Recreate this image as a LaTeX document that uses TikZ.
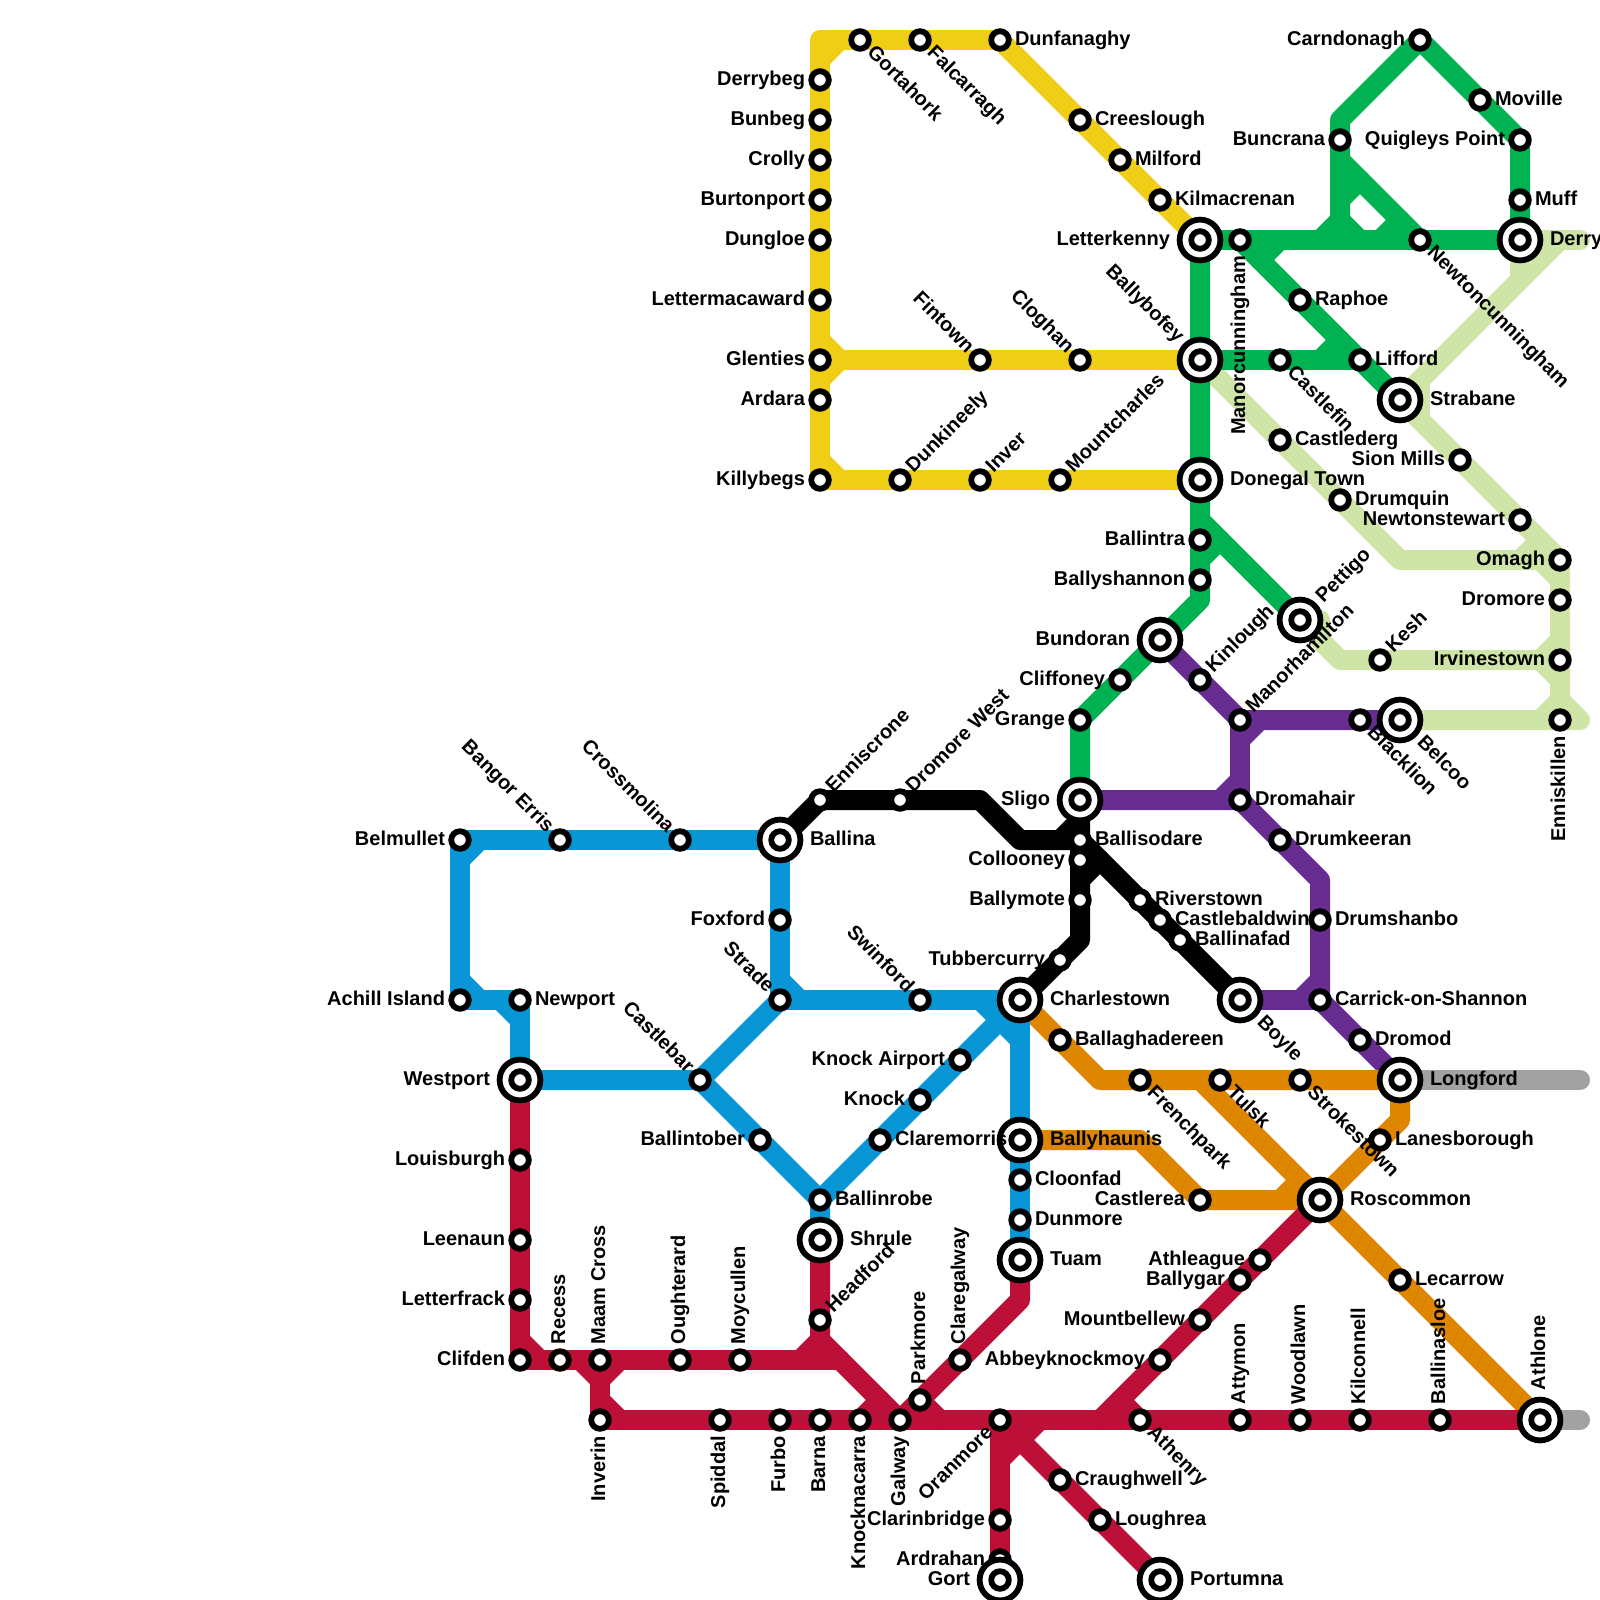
\documentclass[tikz,border=0pt]{standalone}
\usepackage{fontspec}
\setmainfont{Liberation Sans}
\usetikzlibrary{backgrounds}
\definecolor{cyel}{HTML}{F0CE15}
\definecolor{cgrn}{HTML}{00B251}
\definecolor{clgr}{HTML}{CFE4A7}
\definecolor{cpur}{HTML}{662C90}
\definecolor{cblu}{HTML}{0896D7}
\definecolor{cora}{HTML}{DF8600}
\definecolor{cred}{HTML}{BD1038}
\definecolor{cgry}{HTML}{A2A2A2}
\tikzset{
 stn/.style={circle,draw=black,fill=white,line width=5.8pt,minimum size=17.6pt,inner sep=0pt,outer sep=0pt},
 hub/.style={circle,draw=black,fill=white,line width=5.8pt,minimum size=40.8pt,inner sep=0pt,outer sep=0pt},
 route/.style={line width=20pt,line cap=round,line join=round},
 lbl/.style={inner sep=0pt,outer sep=0pt,text height=14.3pt,text depth=4pt,font=\fontsize{20}{24}\selectfont\bfseries},
 lblE/.style={lbl,anchor=west,xshift=15pt},
 lblW/.style={lbl,anchor=east,xshift=-15pt},
 lblN/.style={lbl,yshift=16pt,rotate=90,anchor=west},
 lblS/.style={lbl,yshift=-16pt,rotate=90,anchor=east},
 lblNE/.style={lbl,xshift=10pt,yshift=10pt,rotate=45,anchor=west},
 lblSE/.style={lbl,xshift=10pt,yshift=-10pt,rotate=-45,anchor=west},
 lblNW/.style={lbl,xshift=-10pt,yshift=10pt,rotate=-45,anchor=east},
 lblSW/.style={lbl,xshift=-10pt,yshift=-10pt,rotate=45,anchor=east},
 lblhE/.style={lbl,anchor=west,xshift=30pt},
 lblhW/.style={lbl,anchor=east,xshift=-30pt},
 lblhN/.style={lbl,yshift=30pt,rotate=90,anchor=west},
 lblhNE/.style={lbl,xshift=20pt,yshift=20pt,rotate=45,anchor=west},
 lblhSE/.style={lbl,xshift=20pt,yshift=-20pt,rotate=-45,anchor=west},
 lblhNW/.style={lbl,xshift=-20pt,yshift=20pt,rotate=-45,anchor=east},
}
\newcommand\St[5]{}
\newcommand\Hb[5]{}
\newcommand\AllStations{%
\St{derrybeg}{820}{80}{W}{Derrybeg}
\St{bunbeg}{820}{120}{W}{Bunbeg}
\St{crolly}{820}{160}{W}{Crolly}
\St{burtonport}{820}{200}{W}{Burtonport}
\St{dungloe}{820}{240}{W}{Dungloe}
\St{lettermacaward}{820}{300}{W}{Lettermacaward}
\St{glenties}{820}{360}{W}{Glenties}
\St{ardara}{820}{400}{W}{Ardara}
\St{killybegs}{820}{480}{W}{Killybegs}
\St{gortahork}{860}{40}{SE}{Gortahork}
\St{falcarragh}{920}{40}{SE}{Falcarragh}
\St{dunfanaghy}{1000}{40}{E}{Dunfanaghy}
\St{creeslough}{1080}{120}{E}{Creeslough}
\St{milford}{1120}{160}{E}{Milford}
\St{kilmacrenan}{1160}{200}{E}{Kilmacrenan}
\St{fintown}{980}{360}{NW}{Fintown}
\St{cloghan}{1080}{360}{NW}{Cloghan}
\St{dunkineely}{900}{480}{NE}{Dunkineely}
\St{inver}{980}{480}{NE}{Inver}
\St{mountcharles}{1060}{480}{NE}{Mountcharles}
\Hb{letterkenny}{1200}{240}{hW}{Letterkenny}
\Hb{ballybofey}{1200}{360}{hNW}{Ballybofey}
\Hb{donegal}{1200}{480}{hE}{Donegal Town}
\St{manorcunningham}{1240}{240}{S}{Manorcunningham}
\St{newtoncunningham}{1420}{240}{SE}{Newtoncunningham}
\St{raphoe}{1300}{300}{E}{Raphoe}
\St{lifford}{1360}{360}{E}{Lifford}
\St{castlefin}{1280}{360}{SE}{Castlefin}
\Hb{strabane}{1400}{400}{hE}{Strabane}
\St{carndonagh}{1420}{40}{W}{Carndonagh}
\St{moville}{1480}{100}{E}{Moville}
\St{buncrana}{1340}{140}{W}{Buncrana}
\St{quigleys}{1520}{140}{W}{Quigleys Point}
\St{muff}{1520}{200}{E}{Muff}
\Hb{derry}{1520}{240}{hE}{Derry}
\St{castlederg}{1280}{440}{E}{Castlederg}
\St{sionmills}{1460}{460}{W}{Sion Mills}
\St{drumquin}{1340}{500}{E}{Drumquin}
\St{newtonstewart}{1520}{520}{W}{Newtonstewart}
\St{omagh}{1560}{560}{W}{Omagh}
\St{dromore}{1560}{600}{W}{Dromore}
\St{irvinestown}{1560}{660}{W}{Irvinestown}
\St{enniskillen}{1560}{720}{S}{Enniskillen}
\St{kesh}{1380}{660}{NE}{Kesh}
\Hb{pettigo}{1300}{620}{hNE}{Pettigo}
\Hb{belcoo}{1400}{720}{hSE}{Belcoo}
\St{blacklion}{1360}{720}{SE}{Blacklion}
\St{manorhamilton}{1240}{720}{NE}{Manorhamilton}
\St{kinlough}{1200}{680}{NE}{Kinlough}
\Hb{bundoran}{1160}{640}{hW}{Bundoran}
\St{ballintra}{1200}{540}{W}{Ballintra}
\St{ballyshannon}{1200}{580}{W}{Ballyshannon}
\St{cliffoney}{1120}{680}{W}{Cliffoney}
\St{grange}{1080}{720}{W}{Grange}
\Hb{sligo}{1080}{800}{hW}{Sligo}
\St{dromahair}{1240}{800}{E}{Dromahair}
\St{drumkeeran}{1280}{840}{E}{Drumkeeran}
\St{drumshanbo}{1320}{920}{E}{Drumshanbo}
\St{carrick}{1320}{1000}{E}{Carrick-on-Shannon}
\St{dromod}{1360}{1040}{E}{Dromod}
\Hb{longford}{1400}{1080}{hE}{Longford}
\Hb{boyle}{1240}{1000}{hSE}{Boyle}
\St{ballisodare}{1080}{840}{E}{Ballisodare}
\St{collooney}{1080}{860}{W}{Collooney}
\St{ballymote}{1080}{900}{W}{Ballymote}
\St{riverstown}{1140}{900}{E}{Riverstown}
\St{castlebaldwin}{1160}{920}{E}{Castlebaldwin}
\St{ballinafad}{1180}{940}{E}{Ballinafad}
\St{tubbercurry}{1060}{960}{W}{Tubbercurry}
\Hb{charlestown}{1020}{1000}{hE}{Charlestown}
\St{ballaghadereen}{1060}{1040}{E}{Ballaghadereen}
\St{frenchpark}{1140}{1080}{SE}{Frenchpark}
\St{tulsk}{1220}{1080}{SE}{Tulsk}
\St{strokestown}{1300}{1080}{SE}{Strokestown}
\St{lanesborough}{1380}{1140}{E}{Lanesborough}
\Hb{roscommon}{1320}{1200}{hE}{Roscommon}
\St{castlerea}{1200}{1200}{W}{Castlerea}
\Hb{ballyhaunis}{1020}{1140}{hE}{Ballyhaunis}
\St{cloonfad}{1020}{1180}{E}{Cloonfad}
\St{dunmore}{1020}{1220}{E}{Dunmore}
\Hb{tuam}{1020}{1260}{hE}{Tuam}
\St{knockairport}{960}{1060}{W}{Knock Airport}
\St{knock}{920}{1100}{W}{Knock}
\St{claremorris}{880}{1140}{E}{Claremorris}
\St{ballinrobe}{820}{1200}{E}{Ballinrobe}
\Hb{shrule}{820}{1240}{hE}{Shrule}
\St{ballintober}{760}{1140}{W}{Ballintober}
\St{castlebar}{700}{1080}{NW}{Castlebar}
\St{strade}{780}{1000}{NW}{Strade}
\St{foxford}{780}{920}{W}{Foxford}
\St{swinford}{920}{1000}{NW}{Swinford}
\Hb{ballina}{780}{840}{hE}{Ballina}
\St{enniscrone}{820}{800}{NE}{Enniscrone}
\St{dromorewest}{900}{800}{NE}{Dromore West}
\St{crossmolina}{680}{840}{NW}{Crossmolina}
\St{bangorerris}{560}{840}{NW}{Bangor Erris}
\St{belmullet}{460}{840}{W}{Belmullet}
\St{achill}{460}{1000}{W}{Achill Island}
\St{newport}{520}{1000}{E}{Newport}
\Hb{westport}{520}{1080}{hW}{Westport}
\St{louisburgh}{520}{1160}{W}{Louisburgh}
\St{leenaun}{520}{1240}{W}{Leenaun}
\St{letterfrack}{520}{1300}{W}{Letterfrack}
\St{clifden}{520}{1360}{W}{Clifden}
\St{recess}{560}{1360}{N}{Recess}
\St{maamcross}{600}{1360}{N}{Maam Cross}
\St{oughterard}{680}{1360}{N}{Oughterard}
\St{moycullen}{740}{1360}{N}{Moycullen}
\St{headford}{820}{1320}{NE}{Headford}
\St{parkmore}{920}{1400}{N}{Parkmore}
\St{claregalway}{960}{1360}{N}{Claregalway}
\St{inverin}{600}{1420}{S}{Inverin}
\St{spiddal}{720}{1420}{S}{Spiddal}
\St{furbo}{780}{1420}{S}{Furbo}
\St{barna}{820}{1420}{S}{Barna}
\St{knocknacarra}{860}{1420}{S}{Knocknacarra}
\St{galway}{900}{1420}{S}{Galway}
\St{oranmore}{1000}{1420}{SW}{Oranmore}
\St{athenry}{1140}{1420}{SE}{Athenry}
\St{attymon}{1240}{1420}{N}{Attymon}
\St{woodlawn}{1300}{1420}{N}{Woodlawn}
\St{kilconnell}{1360}{1420}{N}{Kilconnell}
\St{ballinasloe}{1440}{1420}{N}{Ballinasloe}
\Hb{athlone}{1540}{1420}{hN}{Athlone}
\St{lecarrow}{1400}{1280}{E}{Lecarrow}
\St{athleague}{1260}{1260}{W}{Athleague}
\St{ballygar}{1240}{1280}{W}{Ballygar}
\St{mountbellew}{1200}{1320}{W}{Mountbellew}
\St{abbeyknockmoy}{1160}{1360}{W}{Abbeyknockmoy}
\St{craughwell}{1060}{1480}{E}{Craughwell}
\St{loughrea}{1100}{1520}{E}{Loughrea}
\St{clarinbridge}{1000}{1520}{W}{Clarinbridge}
\St{ardrahan}{1000}{1560}{W}{Ardrahan}
\Hb{gort}{1000}{1580}{hW}{Gort}
\Hb{portumna}{1160}{1580}{hE}{Portumna}
}
\begin{document}
\begin{tikzpicture}[x=1pt,y=-1pt]
\useasboundingbox (0,0) rectangle (1600,1600);
% bends and short junction ties of the routes
\foreach \n/\x/\y in {
 ya/820/40,yb/820/60,yc/840/40,yd/820/340,ye/840/360,yf/820/380,yg/820/460,yh/840/480,
 ga/1340/120,gb/1200/600,gc/1340/240,gd/1340/220,ge/1320/240,gf/1340/160,gg/1340/200,gh/1360/180,
 gi/1400/220,gj/1380/240,gk/1360/240,gl/1280/240,gm/1260/260,gn/1320/360,go/1340/340,gp/1200/520,gq/1200/560,gr/1220/540,
 lb/1520/280,lc/1580/240,ld/1560/240,le/1420/380,lf/1420/420,lg/1400/560,lh/1520/560,li/1540/540,lj/1540/560,lk/1560/580,
 ll/1320/620,lm/1320/640,ln/1340/660,lo/1540/660,lp/1560/640,lq/1560/680,lr/1580/720,ls/1560/700,lt/1540/720,
 pa/1320/880,pb/1240/740,pc/1260/720,pd/1240/780,pe/1220/800,pf/1320/980,pg/1300/1000,
 ka/980/800,kb/1020/840,kc/1080/940,kd/1060/840,ke/1080/820,kf/1080/880,kg/1100/860,
 oa/1100/1080,ob/1400/1120,oc/1200/1080,od/1140/1140,oe/1280/1200,of/1300/1180,
 xa/1580/1080,xb/1580/1420,
 ba/460/860,bb/480/840,bc/460/980,bd/480/1000,be/500/1000,bf/520/1020,bg/780/980,bh/800/1000,bi/980/1000,bj/1020/1040,
 ra/840/1360,rb/820/1340,rc/1020/1300,rd/1100/1420,re/520/1340,rf/540/1360,rg/580/1360,rh/600/1380,ri/620/1360,
 rj/600/1400,rk/620/1420,rl/800/1360,rm/860/1420,rn/880/1400,ro/920/1400,rp/940/1420,rq/1120/1400,rr/1140/1420,rs/1000/1460,rt/1040/1420}
 {\coordinate (\n) at (\x,\y);}
% stations
\renewcommand\St[5]{\node[stn] (#1) at (#2,#3) {};}
\renewcommand\Hb[5]{\node[hub] (#1) at (#2,#3) {}; \node[stn] (#1-c) at (#2,#3) {};}
\AllStations
% routes
\begin{pgfonlayer}{background}
\begin{scope}[route,cgry]
 \draw (longford.center) -- (xa);
 \draw (athlone.center) -- (xb);
\end{scope}
\begin{scope}[route,cyel]
 \draw (dunfanaghy.center) -- (ya) -- (killybegs.center) -- (donegal.center);
 \draw (dunfanaghy.center) -- (letterkenny.center);
 \draw (yb) -- (yc);
 \draw (yd) -- (ye) -- (yf);
 \draw (ye) -- (ballybofey.center);
 \draw (yg) -- (yh);
\end{scope}
\begin{scope}[route,clgr]
 \draw (derry.center) -- (lb);
 \draw (derry.center) -- (lc);
 \draw (ld) -- (strabane.center);
 \draw (le) -- (lf);
 \draw (strabane.center) -- (omagh.center) -- (enniskillen.center);
 \draw (ballybofey.center) -- (lg) -- (omagh.center);
 \draw (lh) -- (li);
 \draw (lj) -- (lk);
 \draw (pettigo.center) -- (ll) -- (lm) -- (ln) -- (irvinestown.center);
 \draw (lp) -- (lo) -- (lq);
 \draw (belcoo.center) -- (lr) -- (ls) -- (lt);
\end{scope}
\begin{scope}[route,cgrn]
 \draw (letterkenny.center) -- (derry.center);
 \draw (letterkenny.center) -- (gb) -- (grange.center) -- (sligo.center);
 \draw (gc) -- (ga) -- (carndonagh.center) -- (quigleys.center) -- (derry.center);
 \draw (gd) -- (ge);
 \draw (gf) -- (newtoncunningham.center);
 \draw (gg) -- (gh);
 \draw (gi) -- (gj);
 \draw (gd) -- (gk);
 \draw (manorcunningham.center) -- (strabane.center);
 \draw (gl) -- (gm);
 \draw (ballybofey.center) -- (lifford.center);
 \draw (gn) -- (go);
 \draw (gp) -- (pettigo.center);
 \draw (gq) -- (gr);
\end{scope}
\begin{scope}[route,cpur]
 \draw (bundoran.center) -- (manorhamilton.center) -- (belcoo.center);
 \draw (manorhamilton.center) -- (dromahair.center);
 \draw (sligo.center) -- (dromahair.center) -- (pa) -- (carrick.center) -- (longford.center);
 \draw (boyle.center) -- (carrick.center);
 \draw (pb) -- (pc);
 \draw (pd) -- (pe);
 \draw (pf) -- (pg);
\end{scope}
\begin{scope}[route,cora]
 \draw (charlestown.center) -- (oa) -- (longford.center) -- (ob) -- (roscommon.center);
 \draw (oc) -- (roscommon.center) -- (athlone.center);
 \draw (ballyhaunis.center) -- (od) -- (castlerea.center) -- (roscommon.center);
 \draw (oe) -- (of);
\end{scope}
\begin{scope}[route,cblu]
 \draw (ballina.center) -- (belmullet.center) -- (achill.center) -- (newport.center) -- (westport.center);
 \draw (ba) -- (bb);
 \draw (bc) -- (bd);
 \draw (be) -- (bf);
 \draw (westport.center) -- (castlebar.center) -- (strade.center);
 \draw (castlebar.center) -- (ballinrobe.center) -- (shrule.center);
 \draw (ballina.center) -- (strade.center) -- (charlestown.center) -- (tuam.center);
 \draw (bg) -- (bh);
 \draw (ballinrobe.center) -- (charlestown.center);
 \draw (bi) -- (bj);
\end{scope}
\begin{scope}[route,cred]
 \draw (westport.center) -- (clifden.center) -- (ra);
 \draw (re) -- (rf);
 \draw (maamcross.center) -- (inverin.center) -- (athlone.center);
 \draw (rg) -- (rh) -- (ri);
 \draw (rj) -- (rk);
 \draw (shrule.center) -- (rb) -- (galway.center);
 \draw (rb) -- (rl);
 \draw (rm) -- (rn);
 \draw (tuam.center) -- (rc) -- (galway.center);
 \draw (ro) -- (rp);
 \draw (roscommon.center) -- (rd);
 \draw (rq) -- (rr);
 \draw (oranmore.center) -- (gort.center);
 \draw (oranmore.center) -- (portumna.center);
 \draw (rs) -- (rt);
\end{scope}
\begin{scope}[route,black]
 \draw (ballina.center) -- (enniscrone.center) -- (ka) -- (kb) -- (ballisodare.center) -- (boyle.center);
 \draw (sligo.center) -- (kc) -- (charlestown.center);
 \draw (kd) -- (ke);
 \draw (kf) -- (kg);
\end{scope}
\end{pgfonlayer}
% labels
\renewcommand\St[5]{\node[lbl#4] (#1-t) at (#2,#3) {#5};}
\renewcommand\Hb[5]{\node[lbl#4] (#1-t) at (#2,#3) {#5};}
\AllStations
\end{tikzpicture}
\end{document}
